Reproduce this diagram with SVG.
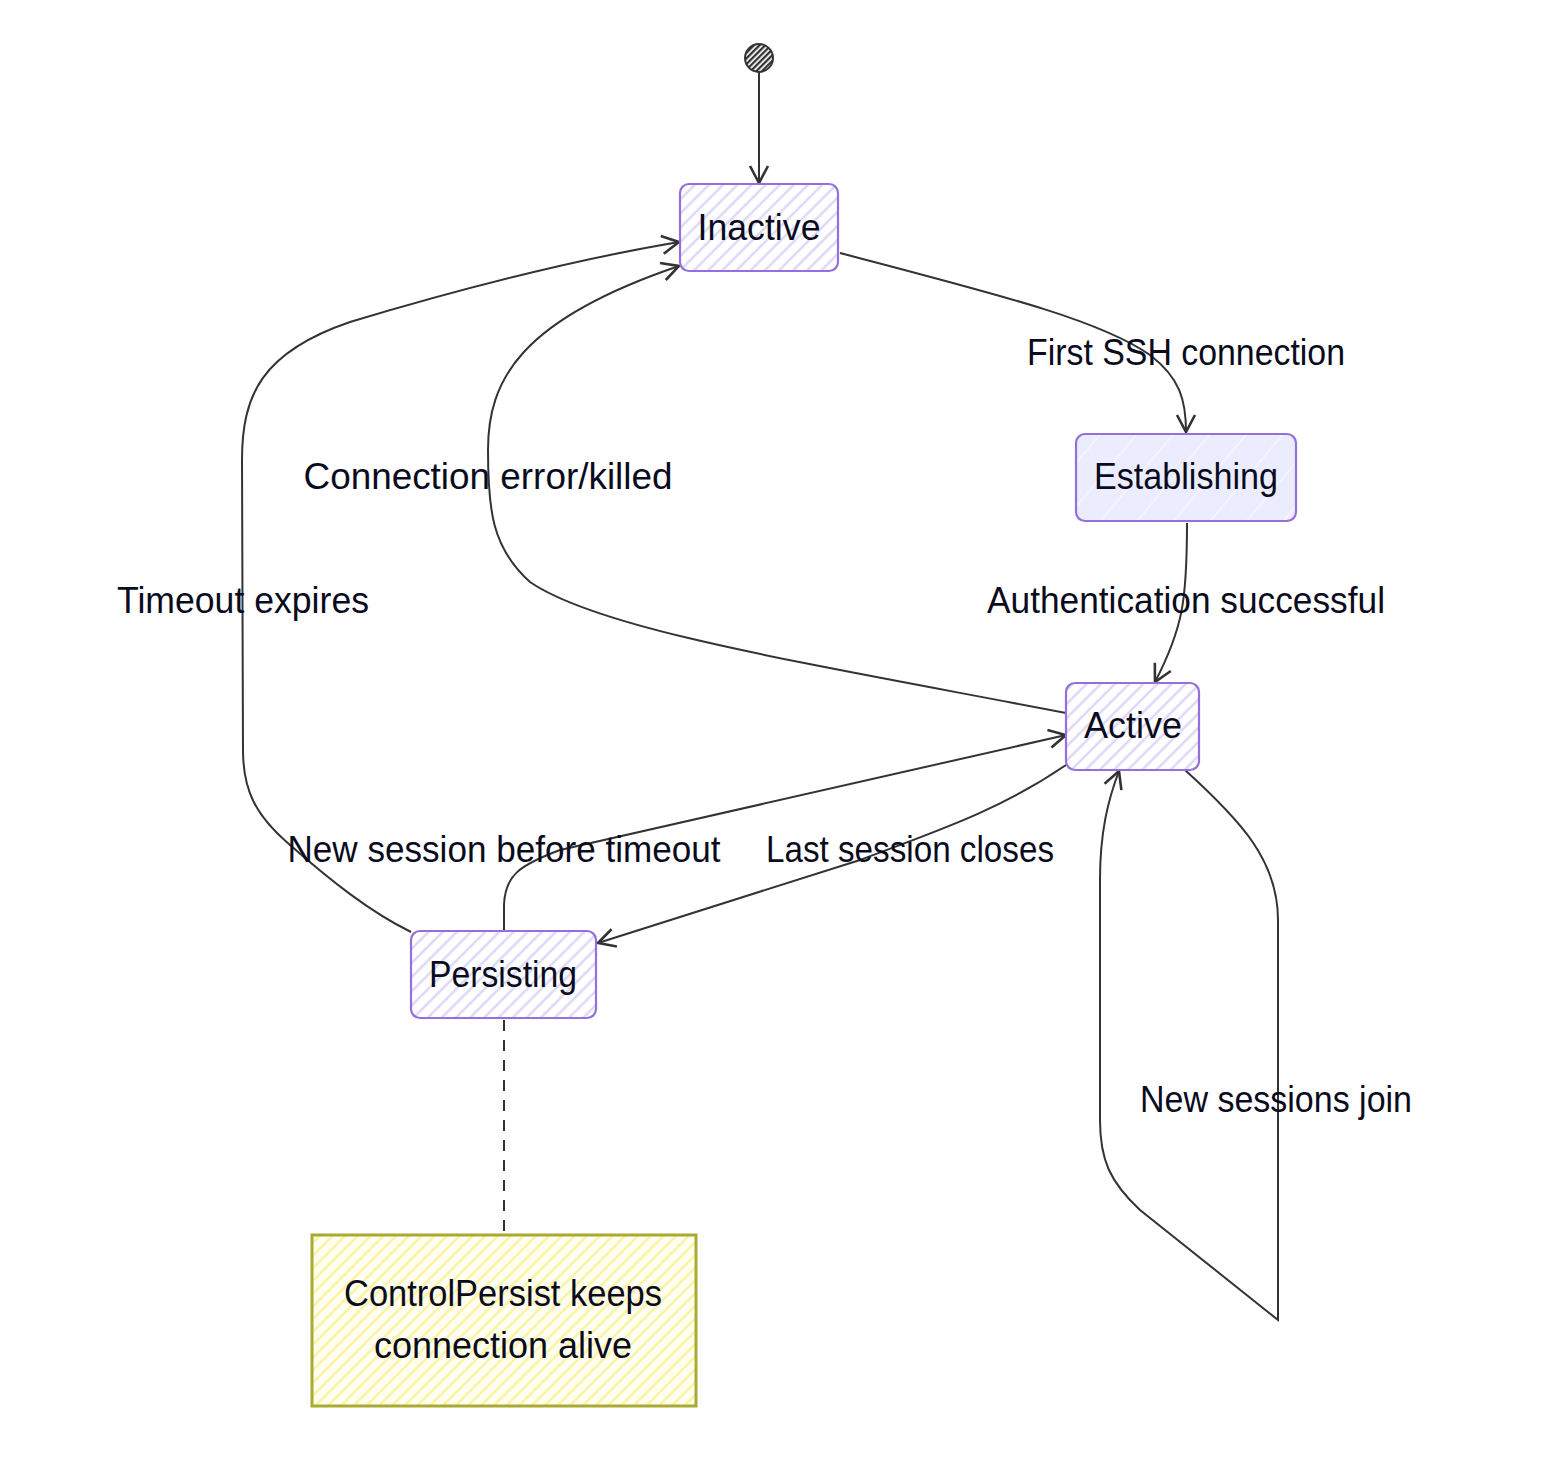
<svg xmlns="http://www.w3.org/2000/svg" width="1542" height="1466" viewBox="0 0 1542 1466">
<defs>
<style>
.lbl{font-family:"Liberation Sans",Arial,sans-serif;font-size:36px;fill:#0b0b1e;text-anchor:middle}
.edge{fill:none;stroke:#333;stroke-width:2}
.node{stroke:#9370DB;stroke-width:2.2}
</style>
<pattern id="hatchNode" patternUnits="userSpaceOnUse" width="10" height="10" patternTransform="rotate(45)">
<rect width="10" height="10" fill="#ffffff"/>
<line x1="2" y1="0" x2="2" y2="10" stroke="#dcd9f8" stroke-width="2.5"/>
</pattern>
<pattern id="hatchEst" patternUnits="userSpaceOnUse" width="28" height="28" patternTransform="rotate(40)">
<rect width="28" height="28" fill="#ECECFF"/>
<line x1="2" y1="0" x2="2" y2="28" stroke="#f7f7ff" stroke-width="1.5"/>
</pattern>
<pattern id="hatchNote" patternUnits="userSpaceOnUse" width="9" height="9" patternTransform="rotate(45)">
<rect width="9" height="9" fill="#fffef2"/>
<line x1="2" y1="0" x2="2" y2="9" stroke="#fbf3a0" stroke-width="2.5"/>
</pattern>
<pattern id="hatchStart" patternUnits="userSpaceOnUse" width="4" height="4" patternTransform="rotate(45)">
<rect width="4" height="4" fill="#ffffff"/>
<line x1="1" y1="0" x2="1" y2="4" stroke="#333" stroke-width="2.6"/>
</pattern>
<marker id="arr" markerUnits="userSpaceOnUse" markerWidth="26" markerHeight="26" refX="21" refY="13" orient="auto">
<path d="M4,4 L21,13 L4,22" fill="none" stroke="#333" stroke-width="2.6" stroke-linejoin="miter"/>
</marker>
</defs>
<rect width="1542" height="1466" fill="#ffffff"/>

<g id="connectors">
<path id="e-start-inactive" class="edge" d="M759,72 L759,183" marker-end="url(#arr)"/>
<path id="e-inactive-establishing" class="edge" d="M840,253 C1000,295 1100,320 1150,355 C1180,378 1186,400 1186,432" marker-end="url(#arr)"/>
<path id="e-establishing-active" class="edge" d="M1187,523 C1187,600 1183,628 1155,682" marker-end="url(#arr)"/>
<path id="e-active-inactive" class="edge" d="M1066,713 C800,662 600,630 530,582 C492,548 488,510 488,450 C488,380 520,320 679,266" marker-end="url(#arr)"/>
<path id="e-persisting-inactive" class="edge" d="M411,932 C370,912 330,880 290,845 C255,815 243,790 243,750 L242,460 C242,395 262,352 350,322 C450,292 560,262 679,242" marker-end="url(#arr)"/>
<path id="e-persisting-active" class="edge" d="M504,931 L504,905 C505,875 520,865 560,850 L1066,735" marker-end="url(#arr)"/>
<path id="e-active-persisting" class="edge" d="M1066,765 C1000,810 940,830 860,860 L598,943" marker-end="url(#arr)"/>
<path id="e-active-self" class="edge" d="M1185,770 C1240,820 1278,860 1278,920 L1278,1320 L1140,1210 C1110,1182 1100,1160 1100,1120 L1100,880 C1100,832 1108,800 1119,771" marker-end="url(#arr)"/>
<path id="e-note" class="edge" d="M504,1020 L504,1235" stroke-dasharray="11,9" stroke-width="1.6"/>
</g>

<g id="edge-labels">
<text class="lbl" x="1186" y="365" textLength="318" lengthAdjust="spacingAndGlyphs">First SSH connection</text>
<text class="lbl" x="1186" y="613" textLength="398" lengthAdjust="spacingAndGlyphs">Authentication successful</text>
<text class="lbl" x="488" y="489" textLength="369" lengthAdjust="spacingAndGlyphs">Connection error/killed</text>
<text class="lbl" x="243" y="613" textLength="252" lengthAdjust="spacingAndGlyphs">Timeout expires</text>
<text class="lbl" x="504" y="862" textLength="433" lengthAdjust="spacingAndGlyphs">New session before timeout</text>
<text class="lbl" x="910" y="862" textLength="288" lengthAdjust="spacingAndGlyphs">Last session closes</text>
<text class="lbl" x="1276" y="1112" textLength="272" lengthAdjust="spacingAndGlyphs">New sessions join</text>
</g>

<g id="start">
<circle cx="759" cy="58" r="14" fill="url(#hatchStart)" stroke="#333" stroke-width="2"/>
</g>

<g id="inactive">
<rect class="node" x="680" y="184" width="158" height="87" rx="9" fill="url(#hatchNode)"/>
<text class="lbl" x="759" y="240" textLength="123" lengthAdjust="spacingAndGlyphs">Inactive</text>
</g>

<g id="establishing">
<rect class="node" x="1076" y="434" width="220" height="87" rx="9" fill="url(#hatchEst)"/>
<text class="lbl" x="1186" y="489" textLength="184" lengthAdjust="spacingAndGlyphs">Establishing</text>
</g>

<g id="active">
<rect class="node" x="1066" y="683" width="133" height="87" rx="9" fill="url(#hatchNode)"/>
<text class="lbl" x="1133" y="738" textLength="98" lengthAdjust="spacingAndGlyphs">Active</text>
</g>

<g id="persisting">
<rect class="node" x="411" y="931" width="185" height="87" rx="9" fill="url(#hatchNode)"/>
<text class="lbl" x="503" y="987" textLength="148" lengthAdjust="spacingAndGlyphs">Persisting</text>
</g>

<g id="note">
<rect x="312" y="1235" width="384" height="171" fill="url(#hatchNote)" stroke="#aaaa33" stroke-width="3"/>
<text class="lbl" x="503" y="1306" textLength="318" lengthAdjust="spacingAndGlyphs">ControlPersist keeps</text>
<text class="lbl" x="503" y="1358" textLength="258" lengthAdjust="spacingAndGlyphs">connection alive</text>
</g>
</svg>
